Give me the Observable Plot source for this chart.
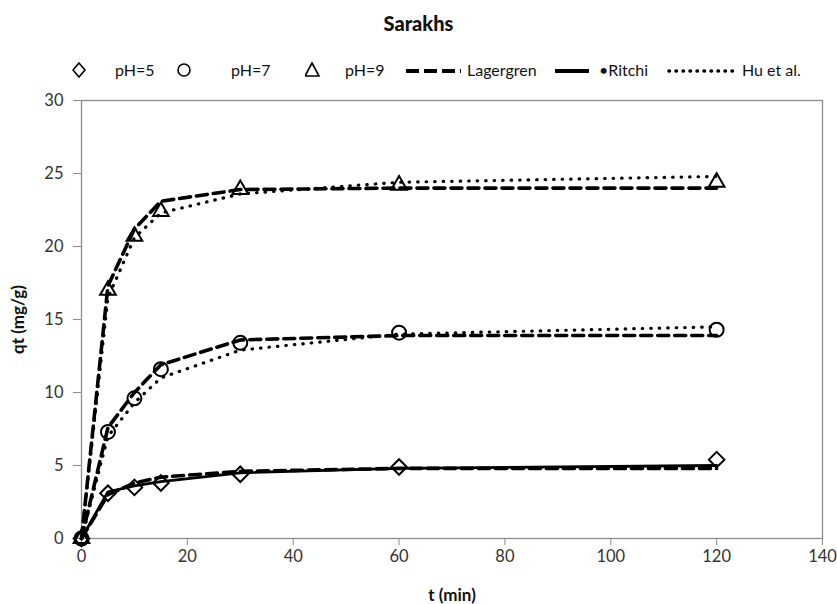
<!DOCTYPE html>
<html>
<head>
<meta charset="utf-8">
<script src="https://cdn.jsdelivr.net/npm/d3@7"></script>
<script src="https://cdn.jsdelivr.net/npm/@observablehq/plot@0.6"></script>
<style>
  body { margin: 0; background: #fff; font-family: Lato, "Open Sans", sans-serif; }
  #wrap { position: relative; width: 837px; height: 604px; }
  #title { position: absolute; left: 0; width: 837px; top: 11px; text-align: center; font-weight: 900; font-size: 20px; color: #111; }
  .lg { position: absolute; top: 59px; font-size: 16px; color: #111; line-height: 22px; white-space: nowrap; }
  .lg svg { display: block; }
  #chart { position: absolute; left: 0; top: 0; }
</style>
</head>
<body>
<div id="wrap">
  <div id="chart"></div>
  <div id="title">Sarakhs</div>
  <div id="legend"></div>
</div>
<script>
// sampling times (min)
const t = [0, 5, 10, 15, 30, 60, 120];
// experimental qt (mg/g)
const pH5 = [0, 3.1, 3.5, 3.8, 4.4, 4.9, 5.4];
const pH7 = [0, 7.3, 9.6, 11.6, 13.4, 14.1, 14.3];
const pH9 = [0, 17.0, 20.7, 22.4, 23.9, 24.2, 24.4];
// model curves
const lager5 = [0, 3.0, 3.8, 4.2, 4.6, 4.8, 4.8];
const lager7 = [0, 7.6, 10.0, 11.9, 13.6, 13.9, 13.9];
const lager9 = [0, 17.3, 21.2, 23.1, 23.9, 24.0, 24.0];
const ritchi5 = [0, 3.2, 3.6, 3.9, 4.5, 4.8, 5.0];
const hu7 = [0, 7.0, 9.3, 11.0, 12.9, 14.0, 14.5];
const hu9 = [0, 16.5, 20.6, 22.3, 23.6, 24.4, 24.8];
// axis ticks
const xTicks = [0, 20, 40, 60, 80, 100, 120, 140];
const yTicks = [0, 5, 10, 15, 20, 25, 30];
// legend
const legendItems = ["pH=5", "pH=7", "pH=9", "Lagergren", "•Ritchi", "Hu et al."];

const pts = (arr, name) => t.map((x, i) => ({t: x, q: arr[i], s: name}));
const obs5 = pts(pH5, "pH=5"), obs7 = pts(pH7, "pH=7"), obs9 = pts(pH9, "pH=9");
const lagerData = [...pts(lager5, "5"), ...pts(lager7, "7"), ...pts(lager9, "9")];
const ritchiData = pts(ritchi5, "5");
const huData = [...pts(hu7, "7"), ...pts(hu9, "9")];

const chart = Plot.plot({
  width: 837,
  height: 604,
  marginLeft: 81,
  marginRight: 15,
  marginTop: 100,
  marginBottom: 66,
  style: {fontFamily: "Lato, 'Open Sans', sans-serif", fontSize: "16px", color: "#222", background: "white"},
  x: {domain: [0, 140], ticks: xTicks},
  y: {domain: [0, 30], ticks: yTicks},
  marks: [
    Plot.frame({stroke: "#8c8c8c", strokeWidth: 1.3}),
    Plot.axisX({ticks: xTicks, tickSize: 7, tickPadding: 5, stroke: "#8c8c8c", label: "t (min)", labelAnchor: "center", labelOffset: 62, labelArrow: "none", fontSize: 16.5}),
    Plot.axisY({ticks: yTicks, tickSize: 8, tickPadding: 10, stroke: "#8c8c8c", label: "qt (mg/g)", labelAnchor: "center", labelOffset: 70, labelArrow: "none", fontSize: 16.5}),
    Plot.line(huData, {x: "t", y: "q", z: "s", stroke: "black", strokeWidth: 3.2, strokeDasharray: "0.5,8", strokeLinecap: "round"}),
    Plot.line(ritchiData, {x: "t", y: "q", z: "s", stroke: "black", strokeWidth: 2.8}),
    Plot.line(lagerData, {x: "t", y: "q", z: "s", stroke: "black", strokeWidth: 3.6, strokeDasharray: "11,6"}),
    Plot.dot(obs5, {x: "t", y: "q", symbol: "diamond2", r: 7, stroke: "black", strokeWidth: 2, fill: "none"}),
    Plot.dot(obs7, {x: "t", y: "q", symbol: "circle", r: 7, stroke: "black", strokeWidth: 2, fill: "none"}),
    Plot.dot(obs9, {x: "t", y: "q", symbol: "triangle2", r: 7.5, stroke: "black", strokeWidth: 2, fill: "none"})
  ]
});
// bold axis labels
d3.select(chart).selectAll("[aria-label='x-axis label'] text, [aria-label='y-axis label'] text")
  .attr("font-weight", "bold").attr("font-size", 17).attr("fill", "#111");
d3.select(chart).selectAll("[aria-label='x-axis tick label'], [aria-label='y-axis tick label']").attr("fill", "#333");
document.getElementById("chart").appendChild(chart);

// legend
const lg = document.getElementById("legend");
function addSwatch(x, svgInner, w) {
  const d = document.createElement("div");
  d.className = "lg";
  d.style.left = x + "px";
  d.innerHTML = `<svg width="${w}" height="22">${svgInner}</svg>`;
  lg.appendChild(d);
}
function addText(x, txt) {
  const d = document.createElement("div");
  d.className = "lg";
  d.style.left = x + "px";
  d.textContent = txt;
  lg.appendChild(d);
}
addSwatch(72, `<path d="M7,4 L13,11 L7,18 L1,11 Z" fill="none" stroke="black" stroke-width="1.6"/>`, 16);
addText(115, legendItems[0]);
addSwatch(177, `<circle cx="7" cy="11" r="6" fill="none" stroke="black" stroke-width="1.6"/>`, 16);
addText(231, legendItems[1]);
addSwatch(305, `<path d="M7,4 L14,17 L0,17 Z" fill="none" stroke="black" stroke-width="1.6"/>`, 16);
addText(345, legendItems[2]);
addSwatch(405, `<line x1="1" y1="12" x2="56" y2="12" stroke="black" stroke-width="4" stroke-dasharray="13,5"/>`, 58);
addText(467, legendItems[3]);
addSwatch(555, `<line x1="0" y1="12" x2="34" y2="12" stroke="black" stroke-width="4"/>`, 36);
addText(599, legendItems[4]);
addSwatch(667, `<line x1="2" y1="12" x2="72" y2="12" stroke="black" stroke-width="3.5" stroke-dasharray="0.5,6.5" stroke-linecap="round"/>`, 74);
addText(742, legendItems[5]);
</script>
</body>
</html>
